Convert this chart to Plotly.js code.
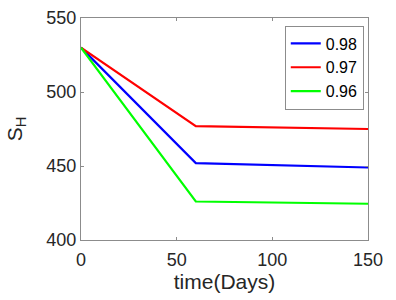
<!DOCTYPE html>
<html>
<head>
<meta charset="utf-8">
<script src="https://cdn.plot.ly/plotly-3.0.1.min.js"></script>
<style>html,body{margin:0;padding:0;background:#fff;}#chart{width:396px;height:300px;}</style>
</head>
<body>
<div id="chart"></div>
<script>
const time = [0, 60, 150];
const s098 = [530, 452, 449];
const s097 = [530, 477, 475];
const s096 = [530, 426, 424.5];
const seriesNames = ['0.98', '0.97', '0.96'];
const seriesColors = ['#0000ff', '#ff0000', '#00ff00'];
const xTicks = [0, 50, 100, 150];
const yTicks = [400, 450, 500, 550];

const font = 'Arial, "Liberation Sans", Helvetica, sans-serif';
const values = [s098, s097, s096];
const traces = values.map((v, i) => ({
  x: time, y: v, type: 'scatter', mode: 'lines', name: seriesNames[i],
  line: {color: seriesColors[i], width: 2.2}
}));

const axisCommon = {
  showline: true, linecolor: '#8c8c8c', linewidth: 1, mirror: 'ticks',
  ticks: 'inside', ticklen: 3, tickcolor: '#8c8c8c', showgrid: false, zeroline: false,
  tickfont: {family: font, size: 18, color: '#262626'}
};

const layout = {
  width: 396, height: 300,
  margin: {l: 81, r: 28, t: 18, b: 60},
  paper_bgcolor: '#fff', plot_bgcolor: '#fff',
  font: {family: font, color: '#262626'},
  xaxis: Object.assign({}, axisCommon, {
    range: [0, 150], tickvals: xTicks, ticktext: xTicks.map(String),
    ticklabelstandoff: 3,
    title: {text: 'time(Days)', font: {family: font, size: 21, color: '#262626'}, standoff: 2}
  }),
  yaxis: Object.assign({}, axisCommon, {
    range: [400, 550], tickvals: yTicks, ticktext: yTicks.map(String),
    title: {text: 'S<sub>H</sub>', font: {family: font, size: 21, color: '#262626'}, standoff: 18}
  }),
  showlegend: true,
  legend: {
    x: 0.71, y: 0.966, xanchor: 'left', yanchor: 'top',
    bordercolor: '#8c8c8c', borderwidth: 1, bgcolor: '#fff',
    font: {family: font, size: 16, color: '#000'}
  }
};

Plotly.newPlot('chart', traces, layout, {displayModeBar: false, staticPlot: true});
</script>
</body>
</html>
